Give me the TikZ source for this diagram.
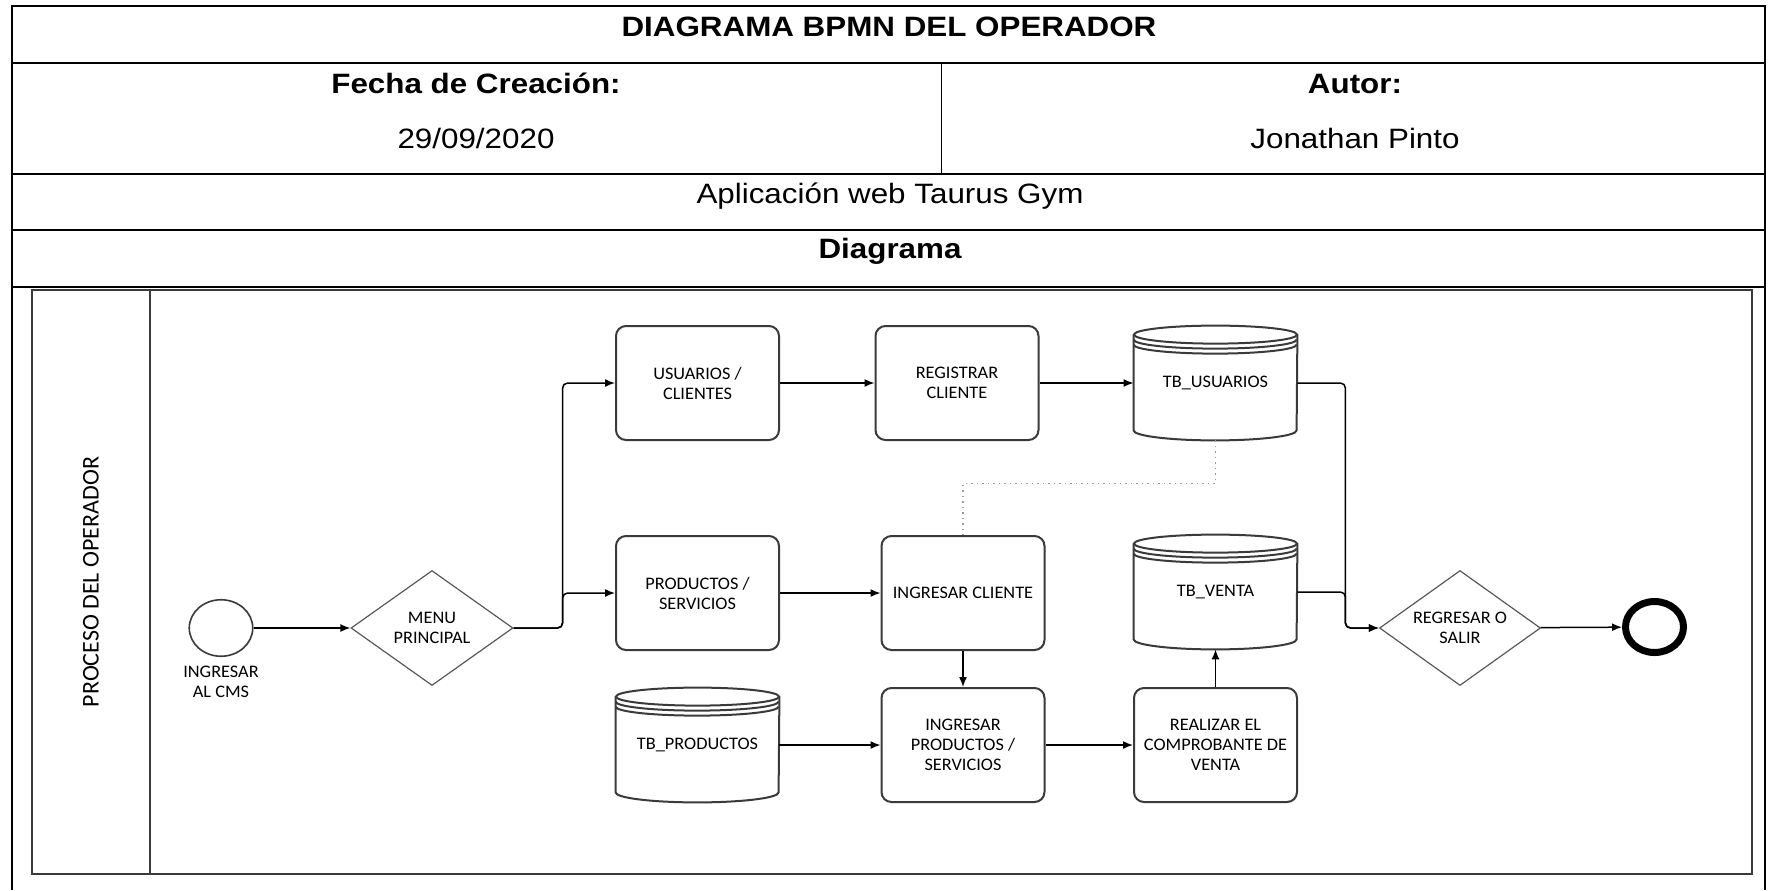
\documentclass[tikz,border=0pt]{standalone}
\usepackage{fontspec}
\setmainfont{Liberation Sans}[FakeStretch=1.12]
\newfontfamily\bpmnfont{Carlito}[FakeStretch=1.04]
\newfontfamily\lanefont{Carlito}
\usetikzlibrary{shapes.geometric,arrows.meta,positioning}

\definecolor{edgegray}{HTML}{3A3A3A}
\definecolor{dotgray}{HTML}{9A9A9A}

\tikzset{>={Latex[length=5pt,width=4pt]},
	headtext/.style={anchor=base,font=\fontsize{14}{16}\selectfont},
	headbold/.style={anchor=base,font=\bfseries\fontsize{14}{16}\selectfont},
	bpmntext/.style={font=\bpmnfont\fontsize{8.8}{10}\selectfont},
	task/.style={bpmntext,draw=edgegray,line width=1pt,rounded corners=5pt,
		minimum width=81.5pt,minimum height=57pt,align=center,inner sep=2pt},
	store/.style={bpmntext,minimum width=81.5pt,minimum height=57pt,align=center,inner sep=0pt},
	storeline/.style={draw=edgegray,line width=1pt},
	gateway/.style={bpmntext,diamond,draw=gray!70!black,line width=0.6pt,aspect=1.41,
		inner sep=0pt,minimum width=81pt,minimum height=57.5pt,align=center},
	startevent/.style={ellipse,draw=edgegray,line width=0.8pt,inner sep=0pt,
		minimum width=31.75pt,minimum height=28.25pt},
	endevent/.style={ellipse,draw=black,line width=3.5pt,inner sep=0pt,
		minimum width=29pt,minimum height=25.5pt},
	seqflow/.style={->,line width=0.75pt,rounded corners=2.5pt},
	dotflow/.style={dotgray,line width=0.75pt,dotted}
}

% data store: text node plus a drum outline round it
\newcommand{\datastore}[3]{%
	\node[store] (#1) at (#2) {#3};
	\draw[storeline] ([yshift=-4.5pt]#1.north) ellipse [x radius=40.75pt, y radius=4.5pt];
	\draw[storeline] ([yshift=-7pt]#1.north west) arc [start angle=180, end angle=360, x radius=40.75pt, y radius=4.5pt];
	\draw[storeline] ([yshift=-9.5pt]#1.north west) arc [start angle=180, end angle=360, x radius=40.75pt, y radius=4.5pt];
	\draw[storeline] ([yshift=-4.5pt]#1.north west) -- ([yshift=5pt]#1.south west)
		arc [start angle=180, end angle=360, x radius=40.75pt, y radius=5pt]
		-- ([yshift=-4.5pt]#1.north east);
}

\begin{document}
\begin{tikzpicture}[x=0.5pt,y=-0.5pt]

	\path[use as bounding box,fill=white] (0,0) rectangle (1768,890);

	% header table
	\draw[line width=1pt] (12,890) -- (12,6) -- (1765,6) -- (1765,890);
	\foreach \y in {63,174,230,287}
		\draw[line width=1pt] (12,\y) -- (1765,\y);
	\draw[line width=0.5pt] (941,63) -- (941,174);

	\node[headbold] (title) at (889,36) {DIAGRAMA BPMN DEL OPERADOR};
	\node[headbold] (fechalbl) at (476,93) {Fecha de Creación:};
	\node[headbold] (autorlbl) at (1355,93) {Autor:};
	\node[headtext] (fecha) at (476,148) {29/09/2020};
	\node[headtext] (autor) at (1355,148) {Jonathan Pinto};
	\node[headtext] (app) at (890,203) {Aplicación web Taurus Gym};
	\node[headbold] (diag) at (890,258) {Diagrama};

	% pool with one lane
	\draw[draw=edgegray,line width=1pt] (32,290) rectangle (1752,874);
	\draw[draw=edgegray,line width=1pt] (150,290) -- (150,874);
	\node[rotate=90,font=\lanefont\fontsize{12}{14}\selectfont] (lanelbl) at (91,582) {PROCESO DEL OPERADOR};

	% events and gateways
	\node[startevent] (start) at (221,628) {};
	\node[bpmntext,align=center,below=1pt of start] (cmslbl) {INGRESAR\\AL CMS};
	\node[gateway] (menu) at (432,628) {MENU\\PRINCIPAL};
	\node[gateway,minimum width=80.5pt] (regresar) at (1460,628) {REGRESAR O\\SALIR};
	\node[endevent] (end) at (1654.5,627) {};

	% tasks
	\node[task] (usu) at (697.5,383) {USUARIOS /\\CLIENTES};
	\node[task] (prod) at (697.5,593) {PRODUCTOS /\\SERVICIOS};
	\node[task] (reg) at (957,383) {REGISTRAR\\CLIENTE};
	\node[task] (ingcli) at (963,593) {INGRESAR CLIENTE};
	\node[task] (ingprod) at (963,745) {INGRESAR\\PRODUCTOS /\\SERVICIOS};
	\node[task] (realizar) at (1215.5,745) {REALIZAR EL\\COMPROBANTE DE\\VENTA};

	% data stores
	\datastore{tbusu}{1215.5,383}{TB\_USUARIOS}
	\datastore{tbventa}{1215.5,592}{TB\_VENTA}
	\datastore{tbprod}{697.5,745}{TB\_PRODUCTOS}

	% sequence flows
	\draw[seqflow] (start) -- (menu);
	\draw[seqflow] (menu.east) -- ++(49,0) |- (usu.west);
	\draw[seqflow] (menu.east) -- ++(49,0) |- (prod.west);
	\draw[seqflow] (usu) -- (reg);
	\draw[seqflow] (reg) -- (tbusu);
	\draw[seqflow] (prod) -- (ingcli);
	\draw[seqflow] (ingcli) -- (ingprod);
	\draw[seqflow] (tbprod) -- (ingprod);
	\draw[seqflow] (ingprod) -- (realizar);
	\draw[seqflow] (realizar) -- (tbventa);
	\draw[seqflow] (tbusu.east) -- ++(48,0) |- (regresar.west);
	\draw[seqflow] (tbventa.east) -- ++(48,0) |- (regresar.west);
	\draw[seqflow] (regresar) -- (end);

	% association
	\draw[dotflow] (tbusu.south) -- ++(0,43) -| (ingcli.north);

\end{tikzpicture}
\end{document}
